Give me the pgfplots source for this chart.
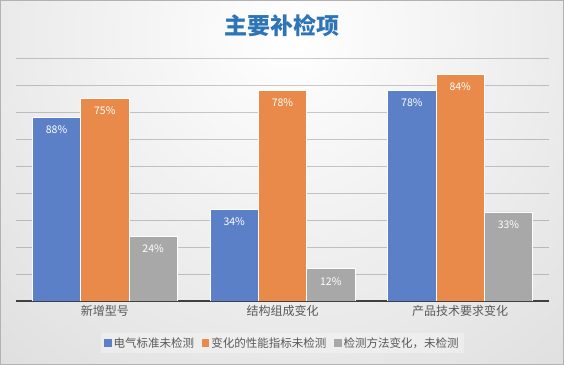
\documentclass[border=0pt]{standalone}
\usepackage{pgfplots}
\pgfplotsset{compat=1.18}
\usepackage{fontspec}
\setmainfont{Noto Sans CJK SC}
\setsansfont{Noto Sans CJK SC}
\definecolor{cblue}{RGB}{91,128,200}
\definecolor{corange}{RGB}{233,138,74}
\definecolor{cgray}{RGB}{168,168,168}
\definecolor{ctitle}{RGB}{46,117,182}
\definecolor{ctext}{RGB}{89,89,89}
\pgfplotstableread{
x y lab
0 68 88
1 34 34
2 78 78
}\sA
\pgfplotstableread{
x y lab
0 75 75
1 78 78
2 84 84
}\sB
\pgfplotstableread{
x y lab
0 24 24
1 12 12
2 33 33
}\sC
\pgfplotsset{sq legend/.style={legend image code/.code={\fill[##1,draw=none,fill opacity=1] (0bp,-3.6bp) rectangle (7.2bp,3.6bp);}}}
\begin{document}
\begin{tikzpicture}
\begin{scope}
\clip (0,0) rectangle (564bp,365bp);
\shade[inner color=white, outer color=gray!50] (290bp,330bp) circle (880bp);
\end{scope}
\draw[gray!60, line width=0.8bp] (0.4bp,0.4bp) rectangle (563.6bp,364.6bp);
\node[font=\fontsize{23bp}{27bp}\selectfont\bfseries, text=ctitle] at (282bp,339bp) {主要补检项};
\begin{axis}[
  at={(16bp,64bp)}, anchor=south west,
  scale only axis, width=533bp, height=243bp,
  xmin=-0.5, xmax=2.5, ymin=0, ymax=90,
  ybar=0pt, bar width=48.3bp,
  axis lines*=left,
  y axis line style={draw=none},
  x axis line style={line width=2bp, color=black!75, -},
  ytick={10,20,...,90}, yticklabels={},
  ymajorgrids, grid style={black, opacity=0.2, line width=0.8bp},
  major tick length=0pt,
  xtick={0,1,2}, xticklabels={新增型号,结构组成变化,产品技术要求变化},
  xticklabel style={font=\fontsize{12bp}{14bp}\selectfont, text=ctext, yshift=-1bp},
  point meta=explicit symbolic,
  nodes near coords={\pgfplotspointmeta\%},
  every node near coord/.append style={font=\fontsize{10.5bp}{12bp}\selectfont, text=white, anchor=north, yshift=-5bp},
  legend columns=3,
  legend style={at={(0.5,-0.173)}, anchor=center, draw=none, fill=white, fill opacity=0.3, text opacity=1,
    font=\fontsize{11.5bp}{13bp}\selectfont, text=ctext,
    /tikz/every even column/.append style={column sep=6bp}},
]
\addplot[fill=cblue, draw=white, line width=0.6bp, sq legend] table[x=x, y=y, meta=lab] {\sA};
\addplot[fill=corange, draw=white, line width=0.6bp, sq legend] table[x=x, y=y, meta=lab] {\sB};
\addplot[fill=cgray, draw=white, line width=0.6bp, sq legend] table[x=x, y=y, meta=lab] {\sC};
\legend{电气标准未检测,变化的性能指标未检测,检测方法变化，未检测}
\end{axis}
\end{tikzpicture}
\end{document}
